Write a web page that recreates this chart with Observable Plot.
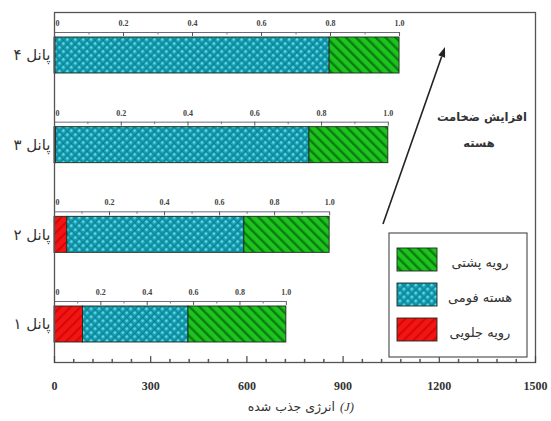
<!DOCTYPE html>
<html><head><meta charset="utf-8">
<script src="https://cdn.jsdelivr.net/npm/d3@7"></script>
<script src="https://cdn.jsdelivr.net/npm/@observablehq/plot@0.6"></script>
<style>body{margin:0;background:#fff}#chart{width:551px;height:421px}</style>
</head><body><div id="chart"></div>
<script>
// ---- data ----
const panels = ["پانل ۱", "پانل ۲", "پانل ۳", "پانل ۴"];
const layerNames = ["رویه جلویی", "هسته فومی", "رویه پشتی"];
const frontFace = [89, 40, 5, 3];      // J
const foamCore  = [329, 552, 790, 855];  // J
const backFace  = [305, 266, 246, 218];  // J
const xTicks = [0, 300, 600, 900, 1200, 1500];
const xMinorTicks = [60,120,180,240,360,420,480,540,660,720,780,840,960,1020,1080,1140,1260,1320,1380,1440];
const fracTicks = [0, 0.1, 0.2, 0.3, 0.4, 0.5, 0.6, 0.7, 0.8, 0.9, 1.0];
const fracLabels = ["0", "0.2", "0.4", "0.6", "0.8", "1.0"];
const xTitleWords = "انرژی جذب شده";
const xTitleUnit = "(J)";
const noteLines = ["افزایش ضخامت", "هسته"];

// ---- derived tables ----
const series = [frontFace, foamCore, backFace];
const patternIds = ["pRed", "pCyan", "pGreen"];
const rows = panels.flatMap((p, i) => layerNames.map((l, j) => ({panel: p, layer: l, value: series[j][i], fill: `url(#${patternIds[j]})`})));
const totals = panels.map((p, i) => frontFace[i] + foamCore[i] + backFace[i]);
const axisRows = panels.map((p, i) => ({panel: p, total: totals[i]}));
const tickRows = panels.flatMap((p, i) => fracTicks.map((f, k) => ({panel: p, x: f * totals[i], major: k % 2 === 0})));
const labelRows = panels.flatMap((p, i) => fracLabels.map(t => ({panel: p, x: (+t) * totals[i], text: t})));

const bandTop = 10.17, bandBottom = 368.83;
const bw = (bandBottom - bandTop) / panels.length;
const barInset = (bw - 36) / 2;
const lineOff = 23;
const tickShape = {draw(ctx, l) { ctx.moveTo(0, 0); ctx.lineTo(0, -l); }};
const serif = "Liberation Serif";
const persian = "DejaVu Sans";
const rtl = s => "\u202B" + s + "\u202C";

const plot = Plot.plot({
  width: 551, height: 421,
  marginLeft: 54, marginRight: 16, marginTop: 12, marginBottom: 59,
  style: {fontFamily: serif, background: "#fff", color: "#222"},
  x: {domain: [0, 1500]},
  y: {type: "band", domain: panels.slice().reverse(), range: [bandTop, bandBottom], padding: 0, round: false},
  color: {type: "identity"},
  marks: [
    Plot.barX(rows, Plot.stackX({x: "value", y: "panel", fill: "fill", stroke: "#1d2a1d", strokeWidth: 0.9, insetTop: barInset, insetBottom: barInset})),
    Plot.ruleY(axisRows, {y: "panel", x1: 0, x2: "total", dy: -lineOff, stroke: "#6e6a80", strokeWidth: 1}),
    Plot.tickX(tickRows.filter(d => d.major), {x: "x", y: "panel", insetTop: bw / 2 - lineOff, insetBottom: bw / 2 + lineOff - 4, stroke: "#555"}),
    Plot.tickX(tickRows.filter(d => !d.major), {x: "x", y: "panel", insetTop: bw / 2 - lineOff, insetBottom: bw / 2 + lineOff - 2.5, stroke: "#777"}),
    Plot.text(labelRows.filter(d => d.text !== "0"), {x: "x", y: "panel", text: "text", dy: -32, fontSize: 8, fontWeight: "bold", fill: "#444", fontFamily: serif}),
    Plot.text(labelRows.filter(d => d.text === "0"), {x: "x", y: "panel", text: "text", dy: -32, dx: 3, fontSize: 8, fontWeight: "bold", fill: "#444", fontFamily: serif}),
    Plot.frame({stroke: "#555", strokeWidth: 1.3}),
    Plot.vectorX(xTicks, {x: d => d, frameAnchor: "bottom", length: 6, anchor: "start", shape: tickShape, stroke: "#444", strokeWidth: 1.2}),
    Plot.vectorX(xMinorTicks, {x: d => d, frameAnchor: "bottom", length: 3, anchor: "start", shape: tickShape, stroke: "#555"}),
    Plot.axisX({ticks: xTicks, tickFormat: d => String(d), tickSize: 0, tickPadding: 19, fontSize: 12, fontWeight: "bold", fill: "#333", label: null}),
    Plot.axisY({tickSize: 0, tickPadding: 4, tickFormat: rtl, fontSize: 15, fontFamily: persian, fill: "#333", label: null}),
    Plot.text([xTitleWords], {frameAnchor: "bottom", dy: 48, dx: 40, textAnchor: "end", fontSize: 12.5, fontFamily: persian, fill: "#333"}),
    Plot.text([xTitleUnit], {frameAnchor: "bottom", dy: 48, dx: 45, textAnchor: "start", fontSize: 12.5, fontStyle: "italic", fontFamily: serif, fill: "#333"})
  ]
});
document.getElementById("chart").appendChild(plot);

// ---- patterns ----
const svg = d3.select(plot);
const defs = svg.insert("defs", ":first-child");
function stripes(id, base, line, angle, size, frac) {
  const p = defs.append("pattern").attr("id", id).attr("patternUnits", "userSpaceOnUse")
    .attr("width", size).attr("height", size).attr("patternTransform", `rotate(${angle})`);
  p.append("rect").attr("width", size).attr("height", size).attr("fill", base);
  p.append("rect").attr("width", size * frac).attr("height", size).attr("fill", line);
}
stripes("pGreen", "#1ec41e", "#0b7d12", -45, 7, 0.35);
stripes("pRed", "#f31414", "#d40808", 45, 7, 0.3);
{
  const s = 5.6;
  const p = defs.append("pattern").attr("id", "pCyan").attr("patternUnits", "userSpaceOnUse")
    .attr("width", s).attr("height", s).attr("patternTransform", "rotate(45)");
  p.append("rect").attr("width", s).attr("height", s).attr("fill", "#159fb1");
  p.append("path").attr("d", `M0,0H${s}M0,0V${s}`).attr("stroke", "#0b6a86").attr("stroke-width", 1.1);
  p.append("circle").attr("cx", s / 2).attr("cy", s / 2).attr("r", 1.3).attr("fill", "#62dbe4");
}

// ---- annotation: arrow + note ----
const g = svg.append("g");
const ax0 = 383, ay0 = 224, ax1 = 445, ay1 = 47;
const ang = Math.atan2(ay1 - ay0, ax1 - ax0);
const hl = 10, hw = 3.6;
const bx = ax1 - hl * Math.cos(ang), by = ay1 - hl * Math.sin(ang);
g.append("line").attr("x1", ax0).attr("y1", ay0).attr("x2", bx).attr("y2", by).attr("stroke", "#222").attr("stroke-width", 1.6);
g.append("path").attr("d", `M${ax1},${ay1}L${bx + hw * Math.sin(ang)},${by - hw * Math.cos(ang)}L${bx - hw * Math.sin(ang)},${by + hw * Math.cos(ang)}Z`).attr("fill", "#222");
g.selectAll("text.note").data(noteLines).join("text").attr("class", "note")
  .attr("x", (d, i) => i ? 479 : 482).attr("y", (d, i) => 117 + i * 26)
  .attr("text-anchor", "middle").attr("dominant-baseline", "middle")
  .attr("font-family", persian).attr("font-size", 11.5).attr("font-weight", "bold").attr("fill", "#333").text(d => d);

// ---- legend ----
const lg = svg.append("g");
lg.append("rect").attr("x", 389).attr("y", 233).attr("width", 138).attr("height", 124).attr("fill", "#fff").attr("stroke", "#555").attr("stroke-width", 1.2);
const legendOrder = [2, 1, 0];
legendOrder.forEach((j, k) => {
  const y = 248 + k * 35;
  lg.append("rect").attr("x", 397).attr("y", y).attr("width", 40).attr("height", 23)
    .attr("fill", `url(#${patternIds[j]})`).attr("stroke", "#1d2a1d").attr("stroke-width", 0.9);
  lg.append("text").attr("x", 480).attr("y", y + 15).attr("text-anchor", "middle").attr("dominant-baseline", "middle")
    .attr("font-family", persian).attr("font-size", 13).attr("fill", "#333").text(layerNames[j]);
});
</script>
</body></html>
